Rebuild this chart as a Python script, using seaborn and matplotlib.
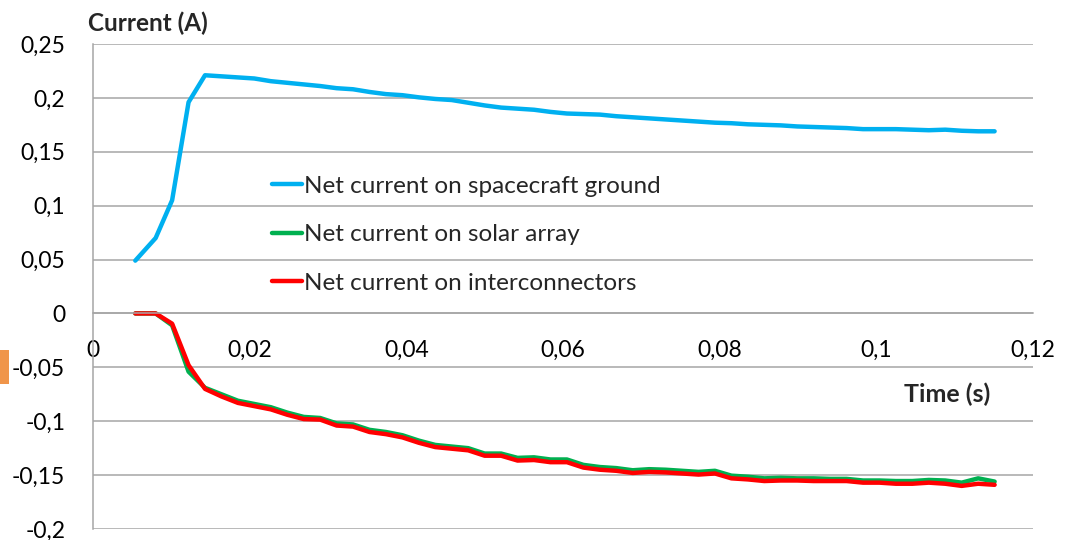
import pandas as pd
import seaborn as sns
import matplotlib.pyplot as plt
from matplotlib.patches import Rectangle

# Sample times (s)
time_s = [0.0054, 0.0080, 0.0101, 0.0122, 0.0143, 0.0164, 0.0185, 0.0206, 0.0227, 0.0248,
          0.0269, 0.0290, 0.0311, 0.0332, 0.0353, 0.0374, 0.0395, 0.0416, 0.0437, 0.0458,
          0.0479, 0.0500, 0.0521, 0.0542, 0.0563, 0.0584, 0.0605, 0.0626, 0.0647, 0.0668,
          0.0689, 0.0710, 0.0731, 0.0752, 0.0773, 0.0794, 0.0815, 0.0836, 0.0857, 0.0878,
          0.0899, 0.0920, 0.0941, 0.0962, 0.0983, 0.1004, 0.1025, 0.1046, 0.1067, 0.1088,
          0.1109, 0.1130, 0.1151]

# Net current on spacecraft ground (A)
ground = [0.049, 0.070, 0.105, 0.196, 0.221, 0.220, 0.219, 0.218, 0.2155, 0.214,
          0.2125, 0.211, 0.209, 0.208, 0.2055, 0.2035, 0.2025, 0.2005, 0.199, 0.198,
          0.1955, 0.193, 0.191, 0.190, 0.189, 0.187, 0.1855, 0.185, 0.1845, 0.183,
          0.182, 0.181, 0.180, 0.179, 0.178, 0.177, 0.1765, 0.1755, 0.175, 0.1745,
          0.1735, 0.173, 0.1725, 0.172, 0.171, 0.171, 0.171, 0.1705, 0.170, 0.1705,
          0.1695, 0.169, 0.169]

# Net current on solar array (A)
solar = [0.0, 0.0, -0.011, -0.054, -0.069, -0.075, -0.081, -0.084, -0.087, -0.092,
         -0.096, -0.097, -0.102, -0.103, -0.108, -0.110, -0.113, -0.118, -0.122, -0.1235,
         -0.125, -0.130, -0.130, -0.134, -0.1335, -0.1355, -0.1355, -0.1405, -0.1425, -0.1435,
         -0.1455, -0.1445, -0.145, -0.146, -0.147, -0.146, -0.1505, -0.1515, -0.153, -0.1525,
         -0.153, -0.153, -0.1535, -0.1535, -0.155, -0.155, -0.1555, -0.1555, -0.1545, -0.155,
         -0.157, -0.153, -0.156]

# Net current on interconnectors (A)
inter = [0.0, 0.0, -0.0095, -0.048, -0.070, -0.077, -0.083, -0.086, -0.089, -0.094,
         -0.098, -0.0985, -0.104, -0.105, -0.110, -0.112, -0.115, -0.120, -0.124, -0.1255,
         -0.127, -0.132, -0.132, -0.1365, -0.136, -0.138, -0.138, -0.143, -0.145, -0.146,
         -0.148, -0.147, -0.1475, -0.1485, -0.1495, -0.1485, -0.153, -0.154, -0.1555, -0.155,
         -0.155, -0.1555, -0.1555, -0.1555, -0.157, -0.157, -0.158, -0.158, -0.157, -0.158,
         -0.160, -0.158, -0.159]

series_names = ["Net current on spacecraft ground",
                "Net current on solar array",
                "Net current on interconnectors"]
series_colors = ["#00B0F0", "#00B050", "#FF0000"]

x_ticks = [0, 0.02, 0.04, 0.06, 0.08, 0.1, 0.12]
x_tick_labels = ["0", "0,02", "0,04", "0,06", "0,08", "0,1", "0,12"]
y_ticks = [-0.2, -0.15, -0.1, -0.05, 0, 0.05, 0.1, 0.15, 0.2, 0.25]
y_tick_labels = ["-0,2", "-0,15", "-0,1", "-0,05", "0", "0,05", "0,1", "0,15", "0,2", "0,25"]

frames = []
for name, vals in zip(series_names, [ground, solar, inter]):
    frames.append(pd.DataFrame({"time": time_s, "current": vals, "series": name}))
df = pd.concat(frames, ignore_index=True)

sns.set_style("white")
plt.rcParams["font.family"] = ["Lato", "DejaVu Sans"]

fig = plt.figure(figsize=(10.75, 5.4), dpi=100)
ax = fig.add_axes([93 / 1075, 1 - 529 / 540, 940 / 1075, 485 / 540])

sns.lineplot(data=df, x="time", y="current", hue="series", hue_order=series_names,
             palette=series_colors, linewidth=3.2, ax=ax)

ax.set_xlim(0, 0.12)
ax.set_ylim(-0.2, 0.25)
ax.set_xticks(x_ticks)
ax.set_xticklabels(x_tick_labels)
ax.set_yticks(y_ticks)
ax.set_yticklabels(y_tick_labels)
ax.tick_params(axis="both", length=0, labelsize=16.5, colors="black")
ax.tick_params(axis="y", pad=20)
ax.tick_params(axis="x", pad=19)
ax.set_xlabel("")
ax.set_ylabel("")

ax.grid(axis="y", color="#a6a6a6", linewidth=1.1)
ax.grid(axis="x", visible=False)
for side in ["top", "right"]:
    ax.spines[side].set_visible(False)
ax.spines["left"].set_color("#a6a6a6")
ax.spines["left"].set_linewidth(1.1)
ax.spines["bottom"].set_position(("data", 0))
ax.spines["bottom"].set_color("#a6a6a6")
ax.spines["bottom"].set_linewidth(1.1)

leg = ax.legend(loc="upper left", bbox_to_anchor=(169 / 940, 1 - 122 / 485), frameon=False,
                fontsize=17.5, handlelength=1.25, handletextpad=0.08, labelspacing=1.13,
                borderaxespad=0)
for line in leg.get_lines():
    line.set_linewidth(3.2)

fig.text(88 / 1075, 1 - 23 / 540, "Current (A)", fontsize=17.5, fontweight="bold",
         ha="left", va="center")
fig.text(947 / 1075, 1 - 394 / 540, "Time (s)", fontsize=18, fontweight="bold",
         ha="center", va="center")

# orange tab at the left edge of the screenshot
fig.add_artist(Rectangle((0, 1 - 384 / 540), 9 / 1075, 34 / 540,
                         transform=fig.transFigure, color="#F0954A", lw=0))

fig.savefig("out.png", dpi=100)
